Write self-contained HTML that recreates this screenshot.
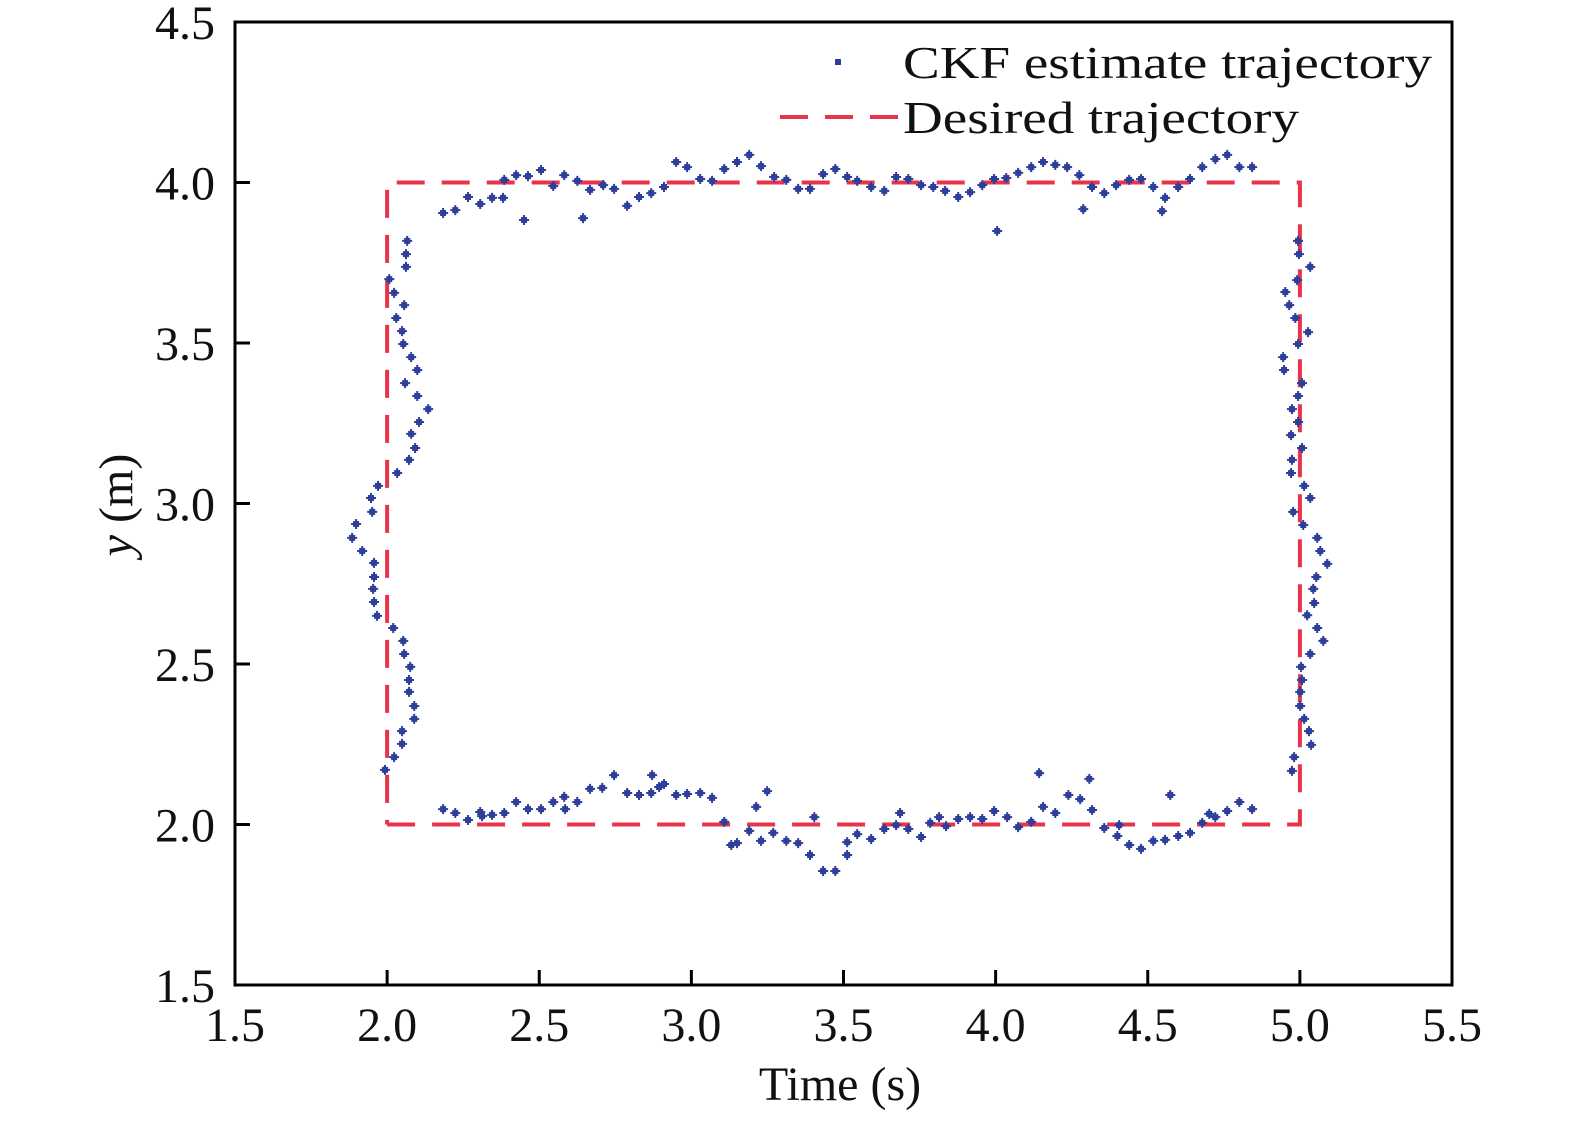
<!DOCTYPE html>
<html><head><meta charset="utf-8"><style>
html,body{margin:0;padding:0;background:#fff}
svg{display:block}
text{font-family:"Liberation Serif",serif;fill:#111}
</style></head><body>
<svg id="chart" width="1575" height="1124" viewBox="0 0 1575 1124" xmlns="http://www.w3.org/2000/svg">
<g id="marks"></g>
<g id="axes"></g>
<g>
  <rect x="835" y="59" width="6" height="6" fill="#2e3f9a"/>
  <text x="903" y="78" font-size="46" textLength="529" lengthAdjust="spacingAndGlyphs">CKF estimate trajectory</text>
  <line x1="780" y1="117" x2="898" y2="117" stroke="#e8334a" stroke-width="4" stroke-dasharray="28,17"/>
  <text x="903" y="133" font-size="46" textLength="396" lengthAdjust="spacingAndGlyphs">Desired trajectory</text>
</g>
<text x="840" y="1100" font-size="48" text-anchor="middle">Time (s)</text>
<text transform="translate(132,505) rotate(-90)" font-size="48" text-anchor="middle"><tspan font-style="italic">y</tspan> (m)</text>
</svg>
<script>
const xTicks = [1.5, 2.0, 2.5, 3.0, 3.5, 4.0, 4.5, 5.0, 5.5];
const yTicks = [1.5, 2.0, 2.5, 3.0, 3.5, 4.0, 4.5];
const desiredX = [2, 5, 5, 2, 2];
const desiredY = [2, 2, 4, 4, 2];
const topX = [2.184,2.224,2.266,2.306,2.345,2.381,2.385,2.424,2.450,2.463,2.506,2.546,2.582,2.625,2.644,2.667,2.710,2.746,2.789,2.828,2.868,2.910,2.950,2.986,3.029,3.068,3.108,3.150,3.190,3.229,3.272,3.312,3.351,3.390,3.433,3.473,3.512,3.545,3.591,3.634,3.673,3.713,3.755,3.795,3.834,3.877,3.916,3.956,3.995,4.005,4.035,4.074,4.117,4.156,4.196,4.235,4.275,4.288,4.317,4.357,4.396,4.439,4.478,4.518,4.557,4.547,4.600,4.639,4.679,4.722,4.761,4.801,4.843];
const topY = [3.905,3.914,3.955,3.933,3.952,3.952,4.008,4.023,3.883,4.020,4.039,3.989,4.023,4.005,3.889,3.977,3.992,3.980,3.927,3.955,3.967,3.986,4.064,4.048,4.011,4.005,4.042,4.064,4.086,4.051,4.017,4.008,3.980,3.980,4.026,4.042,4.017,4.005,3.986,3.974,4.017,4.011,3.992,3.986,3.974,3.955,3.970,3.992,4.011,3.849,4.014,4.030,4.048,4.064,4.055,4.048,4.023,3.917,3.986,3.967,3.992,4.008,4.011,3.986,3.952,3.911,3.986,4.011,4.048,4.073,4.086,4.048,4.048];
const bottomX = [2.184,2.224,2.266,2.306,2.312,2.345,2.385,2.424,2.463,2.506,2.546,2.582,2.585,2.625,2.667,2.707,2.746,2.789,2.828,2.868,2.871,2.894,2.910,2.950,2.986,3.029,3.068,3.108,3.131,3.150,3.190,3.213,3.229,3.249,3.269,3.312,3.351,3.390,3.404,3.433,3.473,3.512,3.512,3.545,3.591,3.634,3.673,3.686,3.713,3.755,3.785,3.814,3.837,3.877,3.916,3.956,3.995,4.038,4.074,4.117,4.143,4.156,4.196,4.239,4.278,4.308,4.317,4.357,4.400,4.406,4.439,4.478,4.518,4.557,4.574,4.600,4.639,4.679,4.702,4.722,4.761,4.801,4.843];
const bottomY = [2.048,2.036,2.014,2.039,2.026,2.030,2.036,2.070,2.048,2.048,2.070,2.086,2.048,2.070,2.111,2.114,2.154,2.098,2.092,2.098,2.154,2.117,2.126,2.092,2.095,2.098,2.083,2.008,1.936,1.942,1.980,2.055,1.949,2.104,1.974,1.949,1.942,1.905,2.023,1.855,1.855,1.905,1.945,1.970,1.955,1.986,1.998,2.036,1.986,1.961,2.005,2.023,1.995,2.017,2.023,2.017,2.042,2.023,1.992,2.008,2.160,2.055,2.036,2.092,2.079,2.142,2.045,1.989,1.964,1.998,1.936,1.924,1.949,1.952,2.092,1.964,1.974,2.005,2.033,2.023,2.042,2.070,2.048];
const leftX = [2.066,2.062,2.062,2.007,2.023,2.056,2.030,2.049,2.053,2.079,2.099,2.059,2.099,2.135,2.105,2.079,2.092,2.072,2.033,1.970,1.947,1.951,1.898,1.885,1.918,1.957,1.957,1.954,1.957,1.967,2.020,2.053,2.056,2.076,2.072,2.072,2.089,2.089,2.049,2.049,2.023,1.993];
const leftY = [3.818,3.777,3.737,3.699,3.656,3.618,3.578,3.537,3.497,3.456,3.416,3.375,3.335,3.294,3.254,3.217,3.173,3.136,3.095,3.055,3.017,2.974,2.936,2.893,2.852,2.815,2.771,2.734,2.693,2.650,2.612,2.572,2.531,2.491,2.450,2.413,2.369,2.329,2.291,2.251,2.210,2.170];
const rightX = [4.994,4.997,5.034,4.991,4.952,4.965,4.985,5.027,4.994,4.945,4.948,5.007,4.994,4.974,4.994,4.971,5.007,4.974,4.971,5.014,5.034,4.978,5.011,5.057,5.067,5.090,5.054,5.044,5.047,5.024,5.057,5.077,5.034,5.004,5.007,5.001,5.001,5.014,5.030,5.037,4.981,4.974];
const rightY = [3.818,3.777,3.737,3.696,3.659,3.618,3.578,3.534,3.497,3.456,3.416,3.375,3.335,3.294,3.254,3.213,3.173,3.136,3.095,3.055,3.017,2.974,2.933,2.893,2.852,2.812,2.771,2.734,2.690,2.652,2.612,2.572,2.531,2.491,2.450,2.413,2.369,2.329,2.291,2.248,2.210,2.167];

const NS = 'http://www.w3.org/2000/svg';
const L = 235, R = 1452, T = 22, B = 985;
const X0 = 1.5, X1 = 5.5, Y0 = 1.5, Y1 = 4.5;
function sx(v){ return L + (v - X0) / (X1 - X0) * (R - L); }
function sy(v){ return B - (v - Y0) / (Y1 - Y0) * (B - T); }
function mk(tag, attrs){ const e = document.createElementNS(NS, tag); for (const k in attrs) e.setAttribute(k, attrs[k]); return e; }

const marks = document.getElementById('marks');
const axes = document.getElementById('axes');

let d = '';
for (let i = 0; i < desiredX.length; i++) d += (i ? 'L' : 'M') + sx(desiredX[i]).toFixed(1) + ' ' + sy(desiredY[i]).toFixed(1);
const path = mk('path', {d: d, fill: 'none', stroke: '#e8334a', 'stroke-width': 4, 'stroke-dasharray': '28,17'});


marks.appendChild(path);

function addPts(xs, ys, name){
  const g = mk('g', {fill: '#2e3f9a'});
  
  
  for (let i = 0; i < xs.length; i++){
    const cx = sx(xs[i]), cy = sy(ys[i]);
    const p = mk('path', {d: 'M' + (cx-3) + ' ' + (cy-3) + 'h6v6h-6z M' + (cx-1) + ' ' + (cy-5) + 'h2v10h-2z M' + (cx-5) + ' ' + (cy-1) + 'h10v2h-10z'});
    
    
    g.appendChild(p);
  }
  marks.appendChild(g);
}
addPts(topX, topY, 'ckf-points-top');
addPts(bottomX, bottomY, 'ckf-points-bottom');
addPts(leftX, leftY, 'ckf-points-left');
addPts(rightX, rightY, 'ckf-points-right');

const frame = mk('rect', {x: L, y: T, width: R - L, height: B - T, fill: 'none', stroke: '#000', 'stroke-width': 3});


axes.appendChild(frame);

xTicks.forEach(v => {
  const x = sx(v);
  const t = mk('line', {x1: x, x2: x, y1: B, y2: B - 15, stroke: '#000', 'stroke-width': 3});
  
  
  axes.appendChild(t);
  const lb = mk('text', {x: x, y: B + 56, 'font-size': 48, 'text-anchor': 'middle'});
  lb.textContent = v.toFixed(1);
  
  
  axes.appendChild(lb);
});
yTicks.forEach(v => {
  const y = sy(v);
  const t = mk('line', {x1: L, x2: L + 15, y1: y, y2: y, stroke: '#000', 'stroke-width': 3});
  
  
  axes.appendChild(t);
  const lb = mk('text', {x: L - 20, y: y + 17, 'font-size': 48, 'text-anchor': 'end'});
  lb.textContent = v.toFixed(1);
  
  
  axes.appendChild(lb);
});
</script>
</body></html>
